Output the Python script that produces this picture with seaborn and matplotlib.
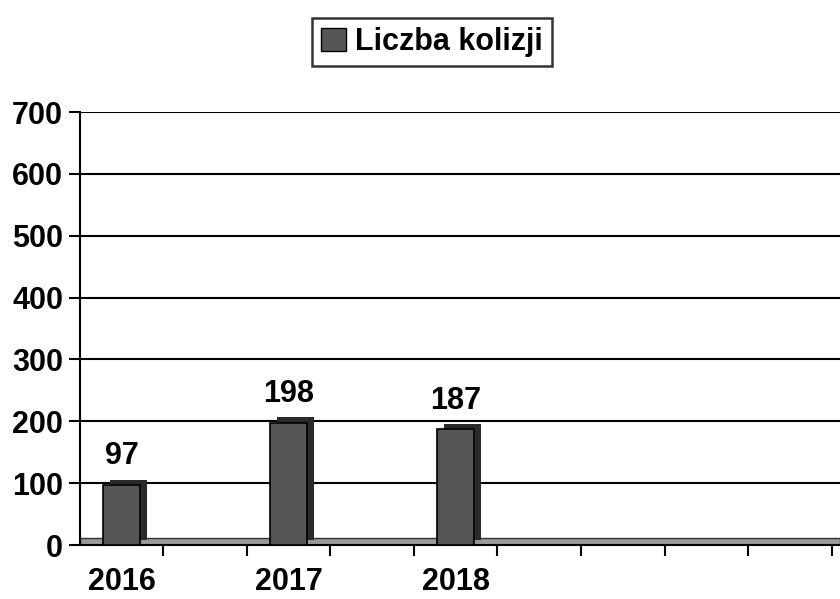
import seaborn as sns
import matplotlib.pyplot as plt
import matplotlib.patheffects as pe
from matplotlib.patches import Patch
import numpy as np

years = [2016, 2017, 2018]
collisions = [97, 198, 187]
series_name = 'Liczba kolizji'
y_ticks = [0, 100, 200, 300, 400, 500, 600, 700]

sns.set_style('white')
plt.rcParams['font.family'] = ['Liberation Sans', 'DejaVu Sans']
plt.rcParams['font.weight'] = 'bold'
plt.rcParams['font.size'] = 22
plt.rcParams['text.color'] = 'black'
plt.rcParams['xtick.color'] = 'black'
plt.rcParams['ytick.color'] = 'black'

fig = plt.figure(figsize=(8.4, 5.99), dpi=100)
ax = fig.add_axes([0.095, 0.09, 0.905, 0.723])

# floor of the 3d chart
ax.axhspan(0, 12, facecolor='#9a9a9a', edgecolor='#333333', linewidth=1, zorder=1)

bar_color = '#555555'
sns.barplot(x=years, y=collisions, native_scale=True, width=0.22,
            color=bar_color, edgecolor='black', linewidth=1.2, ax=ax, zorder=3)
for bar in ax.containers[0]:
    bar.set_path_effects([pe.SimplePatchShadow(offset=(5, 4), shadow_rgbFace='#2a2a2a', alpha=1),
                          pe.Normal()])

ax.bar_label(ax.containers[0], padding=10, fontsize=22, fontweight='bold')

ax.set_ylim(0, 700)
ax.set_yticks(y_ticks)
ax.set_xlim(years[0] - 0.25, years[0] + 4.3)
ax.set_xticks(years)
ax.set_xticklabels([str(y) for y in years])
ax.set_xticks(np.arange(years[0] + 0.25, years[0] + 4.3, 0.5), minor=True)
ax.tick_params(axis='x', which='major', bottom=True, length=0, pad=16)
ax.tick_params(axis='x', which='minor', bottom=True, length=8, width=1.5, color='black', direction='out')
ax.tick_params(axis='y', left=True, length=8, width=1.5, color='black', direction='out', pad=4)

ax.yaxis.grid(True, color='black', linewidth=1.5)
ax.set_axisbelow(True)
for s in ['top', 'right']:
    ax.spines[s].set_visible(False)
for s in ['left', 'bottom']:
    ax.spines[s].set_color('black')
    ax.spines[s].set_linewidth(1.5)

handle = Patch(facecolor=bar_color, edgecolor='black', label=series_name)
leg = fig.legend(handles=[handle], loc='center', bbox_to_anchor=(0.514, 0.93), frameon=True,
                 fancybox=False, handlelength=0.8, handleheight=0.8, handletextpad=0.3,
                 borderpad=0.3, prop={'weight': 'bold', 'size': 22})
leg.get_frame().set_edgecolor('black')
leg.get_frame().set_linewidth(1.8)

fig.savefig('out.png', dpi=100)
